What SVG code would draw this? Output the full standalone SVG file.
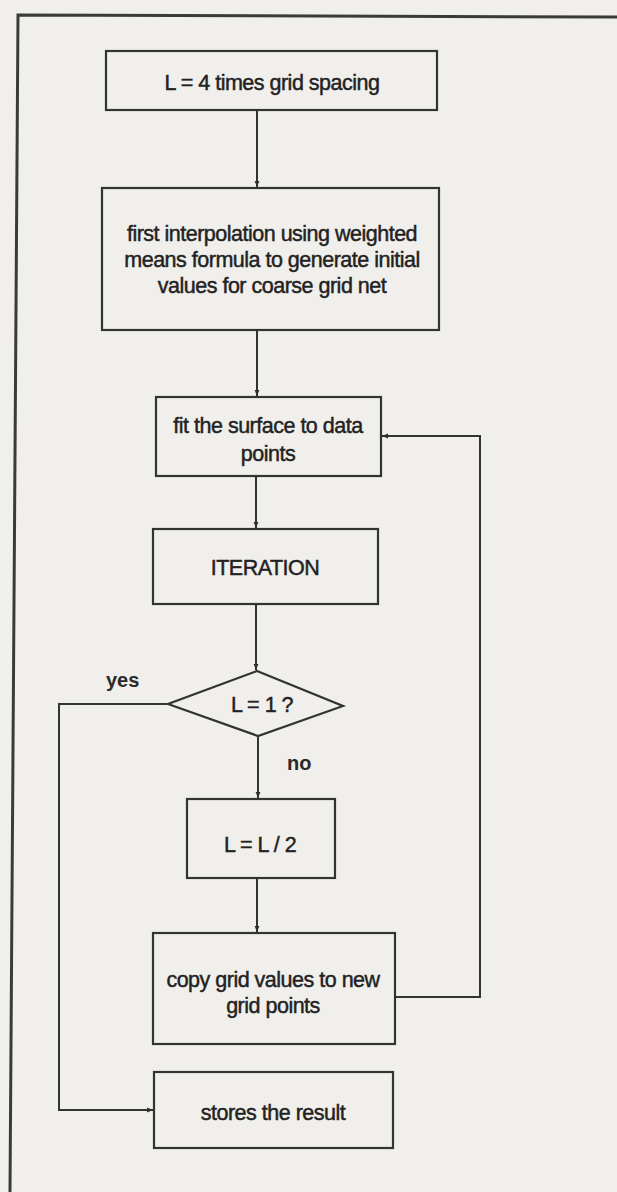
<svg xmlns="http://www.w3.org/2000/svg" width="617" height="1192" viewBox="0 0 617 1192">
  <defs>
    <marker id="arrow" viewBox="0 0 10 10" refX="10" refY="5" markerWidth="6" markerHeight="6" orient="auto" markerUnits="userSpaceOnUse">
      <path d="M0,1 L10,5 L0,9 Z" fill="#2e2e2e"/>
    </marker>
    <style>
      .box { fill: none; stroke: #333; stroke-width: 2.2; }
      .lbl { font-family: "Liberation Sans", Arial, sans-serif; font-size: 21.5px; fill: #222; text-anchor: middle; letter-spacing: -0.5px; stroke: #222; stroke-width: 0.45; }
      .tag { font-family: "Liberation Sans", Arial, sans-serif; font-size: 20px; font-weight: bold; fill: #2a2a2a; }
      .wire { fill: none; stroke: #333; stroke-width: 2; }
      .frame { fill: none; stroke: #3a3a3a; stroke-width: 3; }
    </style>
  </defs>

  <!-- page -->
  <rect width="617" height="1192" fill="#f1efec"/>
  <path class="frame" d="M617,17 L18,15 L10,1192"/>

  <!-- nodes -->
  <g id="init-length">
    <rect class="box" x="106" y="51" width="331" height="59"/>
    <text class="lbl" x="272" y="90">L = 4 times grid spacing</text>
  </g>

  <g id="first-interpolation">
    <rect class="box" x="102" y="188" width="337" height="142"/>
    <text class="lbl" x="272" y="241">first interpolation using weighted</text>
    <text class="lbl" x="272" y="267">means formula to generate initial</text>
    <text class="lbl" x="272" y="293">values for coarse grid net</text>
  </g>

  <g id="fit-surface">
    <rect class="box" x="156" y="397" width="225" height="79"/>
    <text class="lbl" x="268" y="433">fit the surface to data</text>
    <text class="lbl" x="268" y="461">points</text>
  </g>

  <g id="iteration">
    <rect class="box" x="153" y="529" width="225" height="75"/>
    <text class="lbl" x="265" y="575">ITERATION</text>
  </g>

  <g id="test-length">
    <polygon class="box" points="257,671 343,706 258,736 168,704"/>
    <text class="lbl" x="262" y="712">L = 1 ?</text>
  </g>

  <g id="halve-length">
    <rect class="box" x="187" y="799" width="148" height="79"/>
    <text class="lbl" x="260" y="852">L = L / 2</text>
  </g>

  <g id="copy-grid">
    <rect class="box" x="153" y="933" width="242" height="111"/>
    <text class="lbl" x="273" y="987">copy grid values to new</text>
    <text class="lbl" x="273" y="1013">grid points</text>
  </g>

  <g id="store-result">
    <rect class="box" x="154" y="1072" width="239" height="76"/>
    <text class="lbl" x="273" y="1120">stores the result</text>
  </g>

  <!-- connectors -->
  <g id="connectors">
    <path class="wire" marker-end="url(#arrow)" d="M257,110 L257,187"/>
    <path class="wire" marker-end="url(#arrow)" d="M257,330 L257,396"/>
    <path class="wire" marker-end="url(#arrow)" d="M256,476 L256,528"/>
    <path class="wire" marker-end="url(#arrow)" d="M256,604 L256,670"/>
    <path class="wire" marker-end="url(#arrow)" d="M258,736 L258,798"/>
    <path class="wire" marker-end="url(#arrow)" d="M257,878 L257,932"/>
    <path class="wire" marker-end="url(#arrow)" d="M395,997 L480,997 L480,436 L382,436"/>
    <path class="wire" marker-end="url(#arrow)" d="M168,704 L59,704 L59,1110 L153,1110"/>
    <text class="tag" x="106" y="687">yes</text>
    <text class="tag" x="287" y="770">no</text>
  </g>
</svg>
